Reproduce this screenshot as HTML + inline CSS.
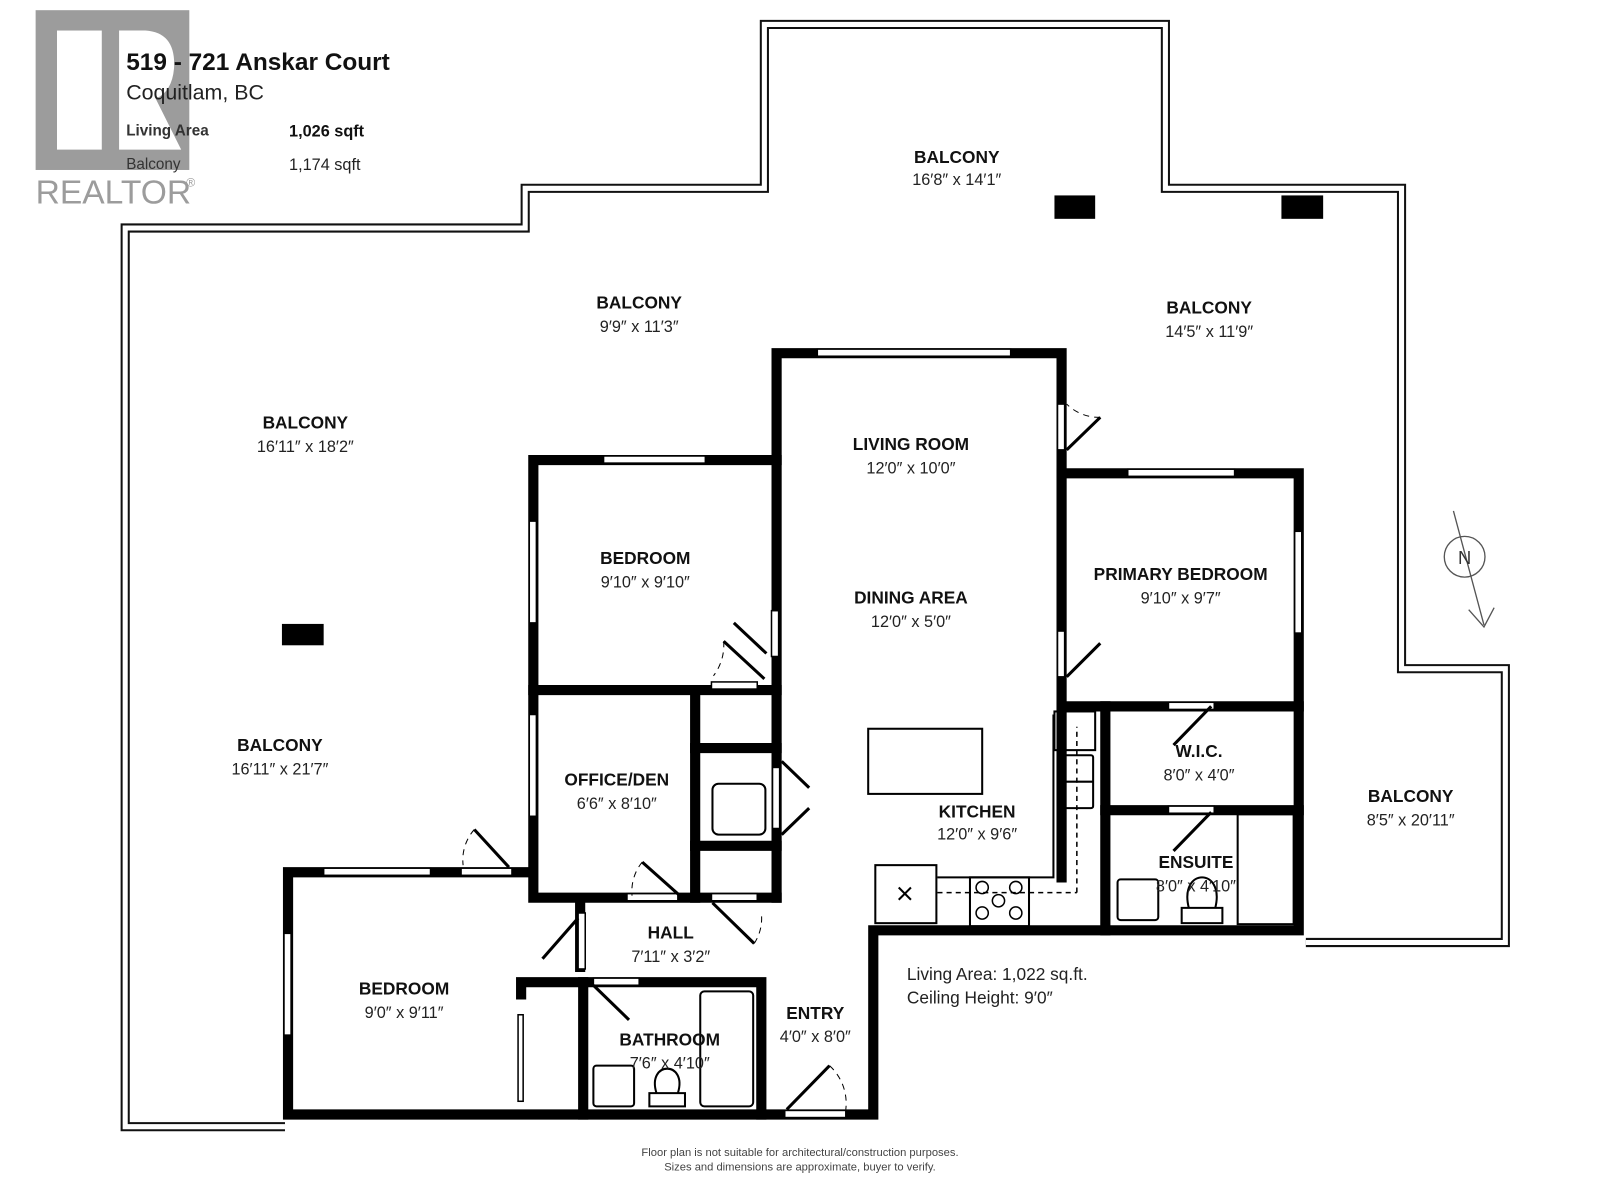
<!DOCTYPE html>
<html><head><meta charset="utf-8"><style>
html,body{margin:0;padding:0;background:#fff;}
svg{display:block;}
.l{font-family:"Liberation Sans",sans-serif;font-weight:bold;font-size:17px;text-anchor:middle;fill:#111;}
.d{font-family:"Liberation Sans",sans-serif;font-size:16px;text-anchor:middle;fill:#222;}
</style></head><body>
<svg width="1600" height="1200" viewBox="-3 -2 1572 1179" preserveAspectRatio="none" xmlns="http://www.w3.org/2000/svg">
<rect x="-10" y="-10" width="1600" height="1200" fill="#fff"/>
<g fill="none" stroke-linejoin="miter">
<polyline points="277,1105 120,1105 120,222 513,222 513,183 748,183 748,22 1142,22 1142,183 1374,183 1374,655 1476,655 1476,924 1280,924" stroke="#111" stroke-width="9"/>
<polyline points="277,1105 120,1105 120,222 513,222 513,183 748,183 748,22 1142,22 1142,183 1374,183 1374,655 1476,655 1476,924 1280,924" stroke="#fff" stroke-width="5"/>
</g>
<rect x="1033" y="190" width="40" height="23" fill="#000"/>
<rect x="1256" y="190" width="41" height="23" fill="#000"/>
<rect x="274" y="611" width="41" height="21" fill="#000"/>
<g stroke="#000" stroke-width="10" fill="none" stroke-linecap="square">
<polyline points="760,880 760,345 1040,345 1040,860"/>
<polyline points="760,450 521,450 521,880 760,880"/>
<line x1="521" y1="676" x2="760" y2="676"/>
<line x1="680" y1="676" x2="680" y2="880"/>
<line x1="680" y1="733" x2="760" y2="733"/>
<line x1="680" y1="829" x2="760" y2="829"/>
<polyline points="1040,463 1273,463 1273,912 855,912 855,1093 280,1093 280,855 517,855"/>
<line x1="1040" y1="692" x2="1273" y2="692"/>
<line x1="1083" y1="692" x2="1083" y2="912"/>
<line x1="1083" y1="794" x2="1273" y2="794"/>
<line x1="567" y1="885" x2="567" y2="948"/>
<polyline points="509,975 509,963 745,963 745,1093"/>
<line x1="570" y1="963" x2="570" y2="1093"/>
</g>
<g fill="#fff" stroke="#000" stroke-width="1.5">
<rect x="800" y="341" width="190" height="7"/>
<rect x="590" y="446" width="100" height="7"/>
<rect x="517" y="510" width="7" height="100"/>
<rect x="517" y="700" width="7" height="100"/>
<rect x="1105" y="459" width="105" height="7"/>
<rect x="1269" y="520" width="7" height="100"/>
<rect x="1036" y="395" width="7" height="45"/>
<rect x="1036" y="618" width="7" height="45"/>
<rect x="755" y="598" width="7" height="45"/>
<rect x="696" y="668" width="45" height="7"/>
<rect x="315" y="851" width="105" height="7"/>
<rect x="450" y="851" width="50" height="7"/>
<rect x="276" y="915" width="7" height="100"/>
<rect x="613" y="876" width="50" height="7"/>
<rect x="696" y="876" width="45" height="7"/>
<rect x="565" y="895" width="7" height="55"/>
<rect x="580" y="959" width="45" height="7"/>
<rect x="756" y="752" width="7" height="60"/>
<rect x="768" y="1089" width="60" height="7"/>
<rect x="1145" y="688" width="45" height="7"/>
<rect x="1145" y="790" width="45" height="7"/>
<rect x="506" y="995" width="5" height="85"/>
</g>
<g stroke="#000" stroke-width="3" fill="none">
<line x1="1045" y1="440" x2="1078" y2="408"/>
<line x1="1045" y1="663" x2="1078" y2="630"/>
<line x1="748" y1="665" x2="708" y2="628"/>
<line x1="750" y1="640" x2="718" y2="610"/>
<line x1="665" y1="878" x2="628" y2="845"/>
<line x1="697" y1="885" x2="738" y2="925"/>
<line x1="565" y1="900" x2="530" y2="940"/>
<line x1="497" y1="850" x2="463" y2="813"/>
<line x1="1187" y1="692" x2="1150" y2="730"/>
<line x1="1187" y1="796" x2="1150" y2="834"/>
<line x1="580" y1="966" x2="615" y2="1000"/>
<line x1="770" y1="1088" x2="812" y2="1045"/>
<line x1="765" y1="746" x2="792" y2="772"/>
<line x1="765" y1="818" x2="792" y2="792"/>
</g>
<g stroke="#000" stroke-width="1" fill="none" stroke-dasharray="6,5">
<path d="M1078,408 A45,45 0 0 1 1045,395"/>
<path d="M708,628 A50,50 0 0 1 698,662"/>
<path d="M628,845 A45,45 0 0 0 618,878"/>
<path d="M463,813 A45,45 0 0 0 452,848"/>
<path d="M812,1045 A50,50 0 0 1 828,1088"/>
<path d="M738,925 A45,45 0 0 0 745,895"/>
</g>
<g stroke="#000" stroke-width="2" fill="none">
<rect x="850" y="714" width="112" height="64"/>
<rect x="697" y="768" width="52" height="50" rx="6"/>
<rect x="857" y="848" width="60" height="57"/>
<line x1="880" y1="870" x2="892" y2="882"/><line x1="892" y1="870" x2="880" y2="882"/>
<rect x="950" y="860" width="58" height="48"/>
<polyline points="918,860 1032,860 1032,700"/>
<rect x="1033" y="697" width="40" height="38"/>
<rect x="1036" y="740" width="35" height="52" rx="2"/>
<line x1="1036" y1="766" x2="1071" y2="766"/>
<rect x="1213" y="798" width="55" height="108"/>
<rect x="685" y="972" width="52" height="113" rx="4"/>
<rect x="580" y="1045" width="40" height="40" rx="3"/>
<rect x="1095" y="862" width="40" height="40" rx="3"/>
<path d="M635,1085 L635,1072 L670,1072 L670,1085 Z M642,1072 C632,1040 673,1040 663,1072"/>
<path d="M1158,905 L1158,890 L1198,890 L1198,905 Z M1165,890 C1155,850 1201,850 1191,890"/>
</g>
<g stroke="#000" stroke-width="1.5" fill="none" stroke-dasharray="5,4">
<line x1="918" y1="875" x2="1055" y2="875"/>
<line x1="1055" y1="875" x2="1055" y2="712"/>
</g>
<g stroke="#000" stroke-width="1.5" fill="none">
<circle cx="962" cy="870" r="6"/><circle cx="995" cy="870" r="6"/><circle cx="962" cy="895" r="6"/><circle cx="995" cy="895" r="6"/><circle cx="978" cy="883" r="6"/>
</g>
<g stroke="#555" stroke-width="1.3" fill="none">
<circle cx="1436" cy="545" r="20"/>
<line x1="1425" y1="500" x2="1455" y2="612"/>
<polyline points="1440,597 1455,614 1465,595"/>
</g>
<text x="1436" y="552" font-family="Liberation Sans,sans-serif" font-size="18" text-anchor="middle" fill="#333">N</text>
<g>
<text class="l" x="937" y="158">BALCONY</text><text class="d" x="937" y="180">16′8″ x 14′1″</text>
<text class="l" x="625" y="301">BALCONY</text><text class="d" x="625" y="324">9′9″ x 11′3″</text>
<text class="l" x="1185" y="306">BALCONY</text><text class="d" x="1185" y="329">14′5″ x 11′9″</text>
<text class="l" x="297" y="419">BALCONY</text><text class="d" x="297" y="442">16′11″ x 18′2″</text>
<text class="l" x="272" y="736">BALCONY</text><text class="d" x="272" y="759">16′11″ x 21′7″</text>
<text class="l" x="1383" y="786">BALCONY</text><text class="d" x="1383" y="809">8′5″ x 20′11″</text>
<text class="l" x="892" y="440">LIVING ROOM</text><text class="d" x="892" y="463">12′0″ x 10′0″</text>
<text class="l" x="631" y="552">BEDROOM</text><text class="d" x="631" y="575">9′10″ x 9′10″</text>
<text class="l" x="892" y="591">DINING AREA</text><text class="d" x="892" y="614">12′0″ x 5′0″</text>
<text class="l" x="1157" y="568">PRIMARY BEDROOM</text><text class="d" x="1157" y="591">9′10″ x 9′7″</text>
<text class="l" x="1175" y="742">W.I.C.</text><text class="d" x="1175" y="765">8′0″ x 4′0″</text>
<text class="l" x="603" y="770">OFFICE/DEN</text><text class="d" x="603" y="793">6′6″ x 8′10″</text>
<text class="l" x="957" y="801">KITCHEN</text><text class="d" x="957" y="823">12′0″ x 9′6″</text>
<text class="l" x="1172" y="851">ENSUITE</text><text class="d" x="1172" y="874">8′0″ x 4′10″</text>
<text class="l" x="656" y="920">HALL</text><text class="d" x="656" y="943">7′11″ x 3′2″</text>
<text class="l" x="394" y="975">BEDROOM</text><text class="d" x="394" y="998">9′0″ x 9′11″</text>
<text class="l" x="798" y="999">ENTRY</text><text class="d" x="798" y="1022">4′0″ x 8′0″</text>
<text class="l" x="655" y="1025">BATHROOM</text><text class="d" x="655" y="1048">7′6″ x 4′10″</text>
</g>
<text x="888" y="961" font-family="Liberation Sans,sans-serif" font-size="17" fill="#222">Living Area: 1,022 sq.ft.</text>
<text x="888" y="984" font-family="Liberation Sans,sans-serif" font-size="17" fill="#222">Ceiling Height: 9′0″</text>
<text x="783" y="1134" font-family="Liberation Sans,sans-serif" font-size="11" fill="#444" text-anchor="middle">Floor plan is not suitable for architectural/construction purposes.</text>
<text x="783" y="1148" font-family="Liberation Sans,sans-serif" font-size="11" fill="#444" text-anchor="middle">Sizes and dimensions are approximate, buyer to verify.</text>
<rect x="32" y="8" width="151" height="157" fill="#9c9c9c"/>
<rect x="53" y="28" width="44" height="117" fill="#fff"/>
<path d="M114,28 L140,28 Q170,30 168,65 Q166,88 150,95 L175,145 L114,145 Z" fill="#fff"/>
<text x="32" y="198" font-family="Liberation Sans,sans-serif" font-size="33" fill="#9c9c9c">REALTOR</text>
<text x="180" y="181" font-family="Liberation Sans,sans-serif" font-size="12" fill="#9c9c9c">®</text>
<text x="121" y="67" font-family="Liberation Sans,sans-serif" font-weight="bold" font-size="24" fill="#111">519 - 721 Anskar Court</text>
<text x="121" y="96" font-family="Liberation Sans,sans-serif" font-size="21" fill="#222">Coquitlam, BC</text>
<text x="121" y="131" font-family="Liberation Sans,sans-serif" font-weight="bold" font-size="15" fill="#333">Living Area</text>
<text x="281" y="132" font-family="Liberation Sans,sans-serif" font-weight="bold" font-size="16" fill="#111">1,026 sqft</text>
<text x="121" y="164" font-family="Liberation Sans,sans-serif" font-size="15" fill="#333">Balcony</text>
<text x="281" y="165" font-family="Liberation Sans,sans-serif" font-size="16" fill="#222">1,174 sqft</text>
</svg>
</body></html>
